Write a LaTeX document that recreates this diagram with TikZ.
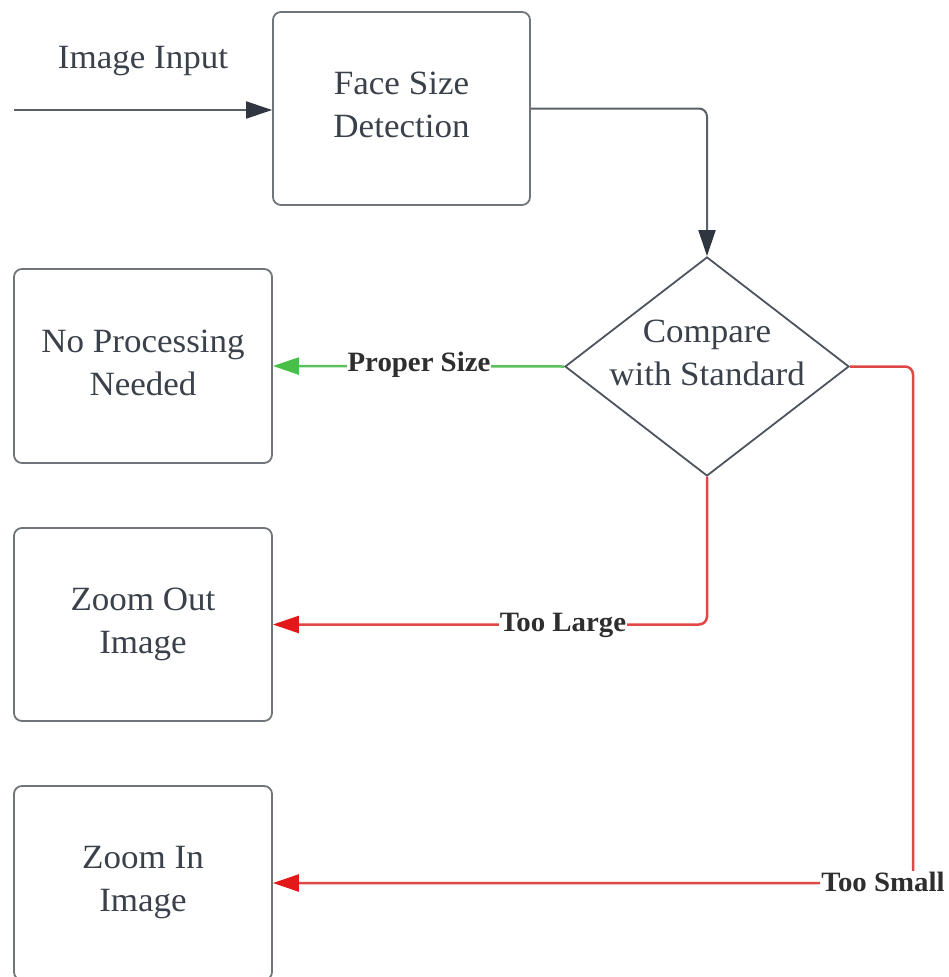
\documentclass[tikz,border=0pt]{standalone}
\usepackage{fontspec}
\setmainfont[FakeStretch=1.03]{Liberation Serif}
\usetikzlibrary{arrows.meta,shapes.geometric}
\definecolor{ink}{HTML}{3A414B}
\definecolor{boxline}{HTML}{70757C}
\definecolor{linkgray}{HTML}{5A6068}
\definecolor{tipgray}{HTML}{2F3640}
\definecolor{okgreen}{HTML}{5CC05C}
\definecolor{tipgreen}{HTML}{48C048}
\definecolor{badred}{HTML}{E04848}
\definecolor{tipred}{HTML}{E41818}
\definecolor{lbl}{HTML}{2E2E2E}
\tikzset{
  bodytext/.style={text=ink, align=center, font=\fontsize{34}{43}\selectfont},
  procbox/.style={bodytext, draw=boxline, line width=1.8pt, rounded corners=8pt,
    minimum width=258pt, minimum height=194pt, inner sep=0pt},
  decisionbox/.style={diamond, draw=ink!90, line width=1.8pt,
    minimum width=284pt, minimum height=219pt, inner sep=0pt},
  edgelabel/.style={fill=white, text=lbl, inner sep=1pt,
    font=\fontsize{28}{30}\selectfont\bfseries},
  graylink/.style={draw=linkgray, line width=2pt, rounded corners=8pt,
    -{Triangle[length=26pt,width=17pt,fill=tipgray,color=tipgray]}},
  greenlink/.style={draw=okgreen, line width=2.5pt, rounded corners=8pt,
    -{Triangle[length=26pt,width=17pt,fill=tipgreen,color=tipgreen]}},
  redlink/.style={draw=badred, line width=2.5pt, rounded corners=8pt,
    -{Triangle[length=26pt,width=17pt,fill=tipred,color=tipred]}},
}
\begin{document}
\begin{tikzpicture}[x=1pt,y=-1pt]
\useasboundingbox (0,0) rectangle (948,977);

% process boxes
\node[procbox, minimum width=257pt, minimum height=193pt] (face) at (401.5,108.5) {};
\node[bodytext] (facetext) at (401.5,104.5) {Face Size\\Detection};
\node[procbox] (noproc) at (143,366) {};
\node[bodytext] (noproctext) at (143,363) {No Processing\\Needed};
\node[procbox, minimum height=193pt] (zoomout) at (143,624.5) {Zoom Out\\Image};
\node[procbox] (zoomin) at (143,883) {Zoom In\\Image};

% decision
\node[decisionbox] (cmp) at (707,366.5) {};
\node[bodytext] (cmptext) at (707,353) {Compare\\with Standard};

% input
\node[bodytext] (inlabel) at (143,61) {Image Input};
\coordinate (src) at (14,110);
\draw[graylink] (src) -- (src -| face.west);

% detection -> comparison
\draw[graylink] (face.east) -| (cmp.north);

% outcomes
\draw[greenlink] (cmp.west) -- (noproc.east);
\node[edgelabel] (lblproper) at (419,365) {Proper Size};

\draw[redlink] (cmp.south) |- (zoomout.east);
\node[edgelabel] (lbllarge) at (563,625) {Too Large};

\coordinate (smallturn) at (913,883);
\draw[redlink] (cmp.east) -| (smallturn) -- (zoomin.east);
\node[edgelabel] (lblsmall) at (883,882) {Too Small};
\end{tikzpicture}
\end{document}
